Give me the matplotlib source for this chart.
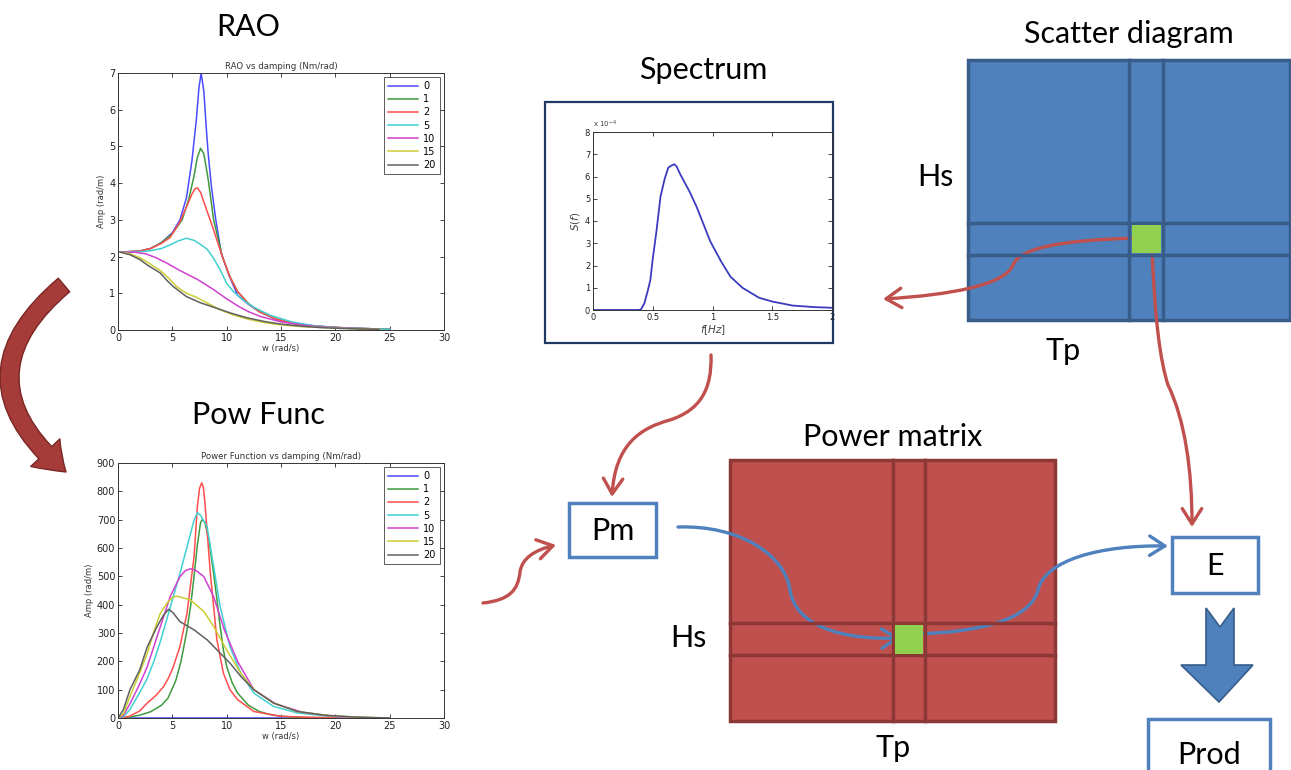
import matplotlib
matplotlib.use("Agg")
import matplotlib.pyplot as plt
from matplotlib.patches import Rectangle, FancyArrowPatch, Polygon
from matplotlib.path import Path

W, H = 1291, 770

# ---- RAO vs damping (w in rad/s, amplitude in rad/m)
rao_labels = ["0", "1", "2", "5", "10", "15", "20"]
rao_w0 = [0.2, 2, 3, 4, 5, 5.7, 6.3, 6.8, 7.2, 7.45, 7.65, 7.9, 8.1, 8.3, 8.6, 9.0, 9.5, 10.2, 11, 12, 13, 14.5, 16, 18, 20, 22, 25]
rao_a0 = [2.12, 2.15, 2.22, 2.38, 2.65, 3.0, 3.6, 4.6, 5.7, 6.6, 7.0, 6.5, 5.6, 4.8, 3.9, 3.0, 2.1, 1.5, 0.95, 0.7, 0.5, 0.3, 0.19, 0.11, 0.07, 0.045, 0.02]
rao_w1 = [0.2, 2, 3, 4, 5, 5.9, 6.5, 7.0, 7.3, 7.6, 7.9, 8.3, 8.8, 9.6, 10.3, 11, 12, 13, 14.5, 16, 18, 20, 22, 25]
rao_a1 = [2.12, 2.15, 2.22, 2.38, 2.62, 3.0, 3.55, 4.2, 4.7, 4.95, 4.8, 4.1, 3.0, 2.0, 1.45, 1.05, 0.72, 0.5, 0.3, 0.19, 0.11, 0.07, 0.045, 0.02]
rao_w2 = [0.2, 2, 3, 4, 4.8, 5.7, 6.3, 6.8, 7.1, 7.3, 7.6, 8.0, 8.6, 9.6, 10.3, 11, 12, 13, 14.5, 16, 18, 20, 22, 25]
rao_a2 = [2.12, 2.15, 2.22, 2.36, 2.52, 2.95, 3.35, 3.7, 3.85, 3.87, 3.75, 3.4, 2.9, 2.0, 1.45, 1.05, 0.72, 0.5, 0.3, 0.19, 0.11, 0.07, 0.045, 0.02]
rao_w5 = [0.2, 2, 3, 4, 4.8, 5.5, 6.3, 7.0, 7.6, 8.2, 8.8, 9.4, 10, 10.6, 11.5, 12.5, 14, 16, 18, 20, 22, 25]
rao_a5 = [2.12, 2.13, 2.16, 2.22, 2.32, 2.42, 2.5, 2.44, 2.33, 2.2, 1.95, 1.64, 1.27, 1.05, 0.82, 0.62, 0.4, 0.22, 0.12, 0.07, 0.045, 0.02]
rao_w10 = [0.2, 1.5, 2.5, 3.5, 4.5, 5.7, 7.3, 8.8, 10, 11, 12, 13.1, 15, 17, 19, 21, 24]
rao_a10 = [2.12, 2.12, 2.08, 1.97, 1.82, 1.62, 1.38, 1.1, 0.85, 0.66, 0.5, 0.37, 0.22, 0.13, 0.08, 0.05, 0.02]
rao_w15 = [0.2, 1.1, 2.0, 2.7, 3.9, 4.7, 5.4, 6.3, 7.3, 8.3, 9.4, 10.5, 11.9, 13.5, 15, 17, 20, 22, 24]
rao_a15 = [2.12, 2.08, 1.97, 1.85, 1.62, 1.4, 1.18, 1.0, 0.88, 0.72, 0.55, 0.42, 0.3, 0.2, 0.14, 0.09, 0.05, 0.03, 0.02]
rao_w20 = [0.2, 1.1, 2.0, 2.7, 3.9, 4.5, 5.1, 6.3, 7.6, 9.4, 10.5, 11.9, 13.5, 15, 17, 19, 22, 24]
rao_a20 = [2.12, 2.05, 1.92, 1.77, 1.55, 1.35, 1.18, 0.91, 0.74, 0.56, 0.45, 0.33, 0.23, 0.16, 0.1, 0.06, 0.03, 0.02]

# ---- Power function vs damping
pow_w0 = [0, 25]
pow_p0 = [0, 0]
pow_w1 = [0, 1, 2, 3, 4, 4.6, 5.3, 5.8, 6.3, 6.7, 7.0, 7.3, 7.6, 7.75, 8.0, 8.4, 8.8, 9.1, 9.4, 9.7, 10.0, 10.5, 11, 12, 13, 14, 15, 17, 20, 23]
pow_p1 = [0, 3, 10, 22, 45, 70, 130, 200, 300, 400, 500, 610, 690, 700, 690, 620, 510, 420, 323, 240, 182, 125, 88, 45, 23, 12, 6, 2, 1, 0]
pow_w2 = [0, 1, 2, 2.7, 3.5, 4.2, 4.7, 5.1, 5.7, 6.35, 7.0, 7.3, 7.5, 7.7, 7.85, 8.0, 8.5, 9.1, 9.7, 10.3, 11, 12.5, 15, 18, 21]
pow_p2 = [0, 5, 25, 53, 80, 111, 145, 182, 252, 370, 569, 745, 810, 830, 815, 760, 510, 276, 158, 100, 65, 23, 6, 2, 0]
pow_w5 = [0, 0.5, 1.1, 2.0, 2.7, 3.3, 3.9, 4.8, 5.7, 6.35, 7.0, 7.3, 7.6, 8.2, 8.8, 9.4, 10.3, 11.3, 12.5, 14.3, 16.5, 19.5, 22, 25]
pow_p5 = [0, 5, 30, 90, 140, 200, 270, 390, 510, 604, 698, 725, 715, 675, 534, 393, 252, 158, 88, 41, 18, 6, 2, 0]
pow_w10 = [0, 0.5, 1.1, 2.0, 2.7, 3.9, 4.8, 5.7, 6.2, 6.7, 7.2, 7.9, 8.8, 9.8, 11, 12.5, 14.5, 17, 20, 23]
pow_p10 = [0, 10, 50, 120, 182, 323, 428, 499, 520, 527, 520, 499, 428, 310, 200, 100, 50, 20, 5, 1]
pow_w15 = [0, 0.5, 1.1, 2.0, 2.7, 3.3, 3.9, 4.5, 5.0, 5.4, 5.9, 6.65, 7.9, 8.8, 10, 11.3, 12.5, 14.3, 16.5, 19.5, 22, 25]
pow_p15 = [0, 15, 76, 160, 229, 305, 370, 405, 425, 430, 425, 417, 376, 323, 240, 158, 100, 53, 23, 8, 3, 0]
pow_w20 = [0, 0.5, 1.1, 2.0, 2.7, 3.6, 4.2, 4.66, 5.1, 5.7, 7.0, 8.2, 9.4, 10.3, 11.3, 12.5, 14.3, 16.5, 19, 22, 25]
pow_p20 = [0, 30, 100, 170, 252, 323, 364, 384, 370, 340, 311, 276, 229, 194, 147, 100, 53, 23, 10, 3, 0]

# ---- Wave spectrum (S in units of 1e-4)
spec_f = [0, 0.38, 0.4, 0.43, 0.46, 0.48, 0.5, 0.53, 0.565, 0.6, 0.63, 0.66, 0.68, 0.7, 0.73, 0.77, 0.81, 0.87, 0.98, 1.07, 1.15, 1.25, 1.39, 1.5, 1.67, 1.85, 2.0]
spec_s = [0, 0, 0.02, 0.3, 0.9, 1.35, 2.3, 3.5, 5.1, 5.9, 6.4, 6.5, 6.55, 6.45, 6.1, 5.7, 5.3, 4.6, 3.1, 2.2, 1.5, 1.0, 0.55, 0.38, 0.2, 0.13, 0.1]

line_colors = ["#4a4aff", "#3f9a3f", "#ff4d4d", "#40d0d0", "#d040d0", "#cccc33", "#606060"]

RED = "#c0504d"
RED_EDGE = "#8c3836"
BLUE = "#4f81bd"
BLUE_EDGE = "#385d8a"
GREEN = "#92d050"
TITLE_FONT = ["Lato", "DejaVu Sans"]
BIG = 22


def px_axes(fig, left, top, right, bottom):
    return fig.add_axes([left / W, 1 - bottom / H, (right - left) / W, (bottom - top) / H])


def matlab_style(ax, fs=7):
    ax.tick_params(direction="in", top=True, right=True, length=3, width=0.6,
                   labelsize=fs, pad=2, colors="#222222")
    for s in ax.spines.values():
        s.set_linewidth(0.7)
        s.set_color("#333333")


def matlab_legend(ax):
    leg = ax.legend(loc="upper right", fontsize=7, frameon=True, fancybox=False,
                    handlelength=3.0, handletextpad=0.6, labelspacing=0.32, borderpad=0.4,
                    borderaxespad=0.45)
    leg.get_frame().set_edgecolor("#333333")
    leg.get_frame().set_linewidth(0.7)


def curve_path(pts):
    codes = [Path.MOVETO] + [Path.CURVE4] * (len(pts) - 1)
    return Path(pts, codes)


def thin_arrow(ax, pts, color, lw=2.4):
    p = FancyArrowPatch(path=curve_path(pts), arrowstyle="->,head_length=0.55,head_width=0.35",
                        mutation_scale=20, color=color, linewidth=lw, capstyle="round",
                        joinstyle="round")
    ax.add_patch(p)


def grid_matrix(ax, x0, y0, x1, y1, vlines, hlines, cell, fc, ec):
    ax.add_patch(Rectangle((x0, y0), x1 - x0, y1 - y0, facecolor=fc, edgecolor=ec, linewidth=2.5))
    for vx in vlines:
        ax.plot([vx, vx], [y0, y1], color=ec, lw=2.5)
    for hy in hlines:
        ax.plot([x0, x1], [hy, hy], color=ec, lw=2.5)
    cx0, cy0, cx1, cy1 = cell
    ax.add_patch(Rectangle((cx0, cy0), cx1 - cx0, cy1 - cy0, facecolor=GREEN, edgecolor="none", zorder=3))


def box(ax, x0, y0, x1, y1, text):
    ax.add_patch(Rectangle((x0, y0), x1 - x0, y1 - y0, facecolor="white", edgecolor=BLUE, linewidth=2.5))
    ax.text((x0 + x1) / 2, (y0 + y1) / 2 + 1, text, fontsize=BIG, family=TITLE_FONT, ha="center", va="center")


def main():
    fig = plt.figure(figsize=(W / 100, H / 100), dpi=100)
    fig.patch.set_facecolor("white")

    ov = fig.add_axes([0, 0, 1, 1])
    ov.set_xlim(0, W)
    ov.set_ylim(H, 0)
    ov.axis("off")

    # big titles
    for x, y, t in [(248, 27, "RAO"), (258, 415, "Pow Func"), (703, 70, "Spectrum"),
                    (1129, 34, "Scatter diagram"), (893, 437, "Power matrix")]:
        ov.text(x, y, t, fontsize=BIG, family=TITLE_FONT, ha="center", va="center")
    for x, y, t in [(935, 177, "Hs"), (1063, 351, "Tp"), (688, 638, "Hs"), (893, 748, "Tp")]:
        ov.text(x, y, t, fontsize=BIG, family=TITLE_FONT, ha="center", va="center")

    # scatter diagram & power matrix
    grid_matrix(ov, 968, 60, 1290, 320, [1129, 1163], [223, 255], (1132, 225, 1161, 253), BLUE, BLUE_EDGE)
    grid_matrix(ov, 730, 460, 1055, 721, [893, 925], [623, 655], (895, 625, 923, 654), RED, RED_EDGE)

    # spectrum frame
    ov.add_patch(Rectangle((545, 102), 288, 241, facecolor="white", edgecolor="#1f3864", linewidth=1.6))

    # boxes
    box(ov, 569, 503, 656, 557, "Pm")
    box(ov, 1172, 537, 1258, 593, "E")
    box(ov, 1148, 719, 1270, 790, "Prod")

    # block down arrow
    ov.add_patch(Polygon([(1206, 608), (1220, 627), (1234, 608), (1234, 665), (1253, 665),
                          (1219, 702), (1181, 665), (1206, 665)],
                         closed=True, facecolor=BLUE, edgecolor=BLUE_EDGE, linewidth=1.2))

    # red flow arrows
    thin_arrow(ov, [(1138, 238), (1060, 240), (1020, 248), (1013, 265),
                    (1005, 285), (950, 295), (883, 299)], RED)
    thin_arrow(ov, [(1152, 250), (1155, 320), (1160, 360), (1168, 385),
                    (1185, 420), (1192, 470), (1192, 527)], RED)
    thin_arrow(ov, [(711, 355), (712, 390), (700, 410), (670, 420),
                    (640, 428), (615, 445), (612, 497)], RED)
    thin_arrow(ov, [(483, 603), (510, 600), (518, 590), (520, 572),
                    (522, 558), (535, 550), (556, 545)], RED)

    # blue flow arrows
    thin_arrow(ov, [(678, 527), (740, 525), (785, 555), (790, 590),
                    (795, 625), (840, 640), (900, 638)], BLUE)
    thin_arrow(ov, [(916, 634), (980, 632), (1030, 620), (1038, 590),
                    (1045, 560), (1100, 545), (1168, 546)], BLUE)

    # big curved arrow RAO -> Pow Func
    big_path = Path([(64, 285), (-46, 378), (66, 472)], [Path.MOVETO, Path.CURVE3, Path.CURVE3])
    big = FancyArrowPatch(path=big_path,
                          arrowstyle="simple,head_length=1.2,head_width=1.7,tail_width=0.75",
                          mutation_scale=17, facecolor="#a53c39", edgecolor="#7a2624", linewidth=1.0)
    ov.add_patch(big)

    # ---- RAO plot
    ax1 = px_axes(fig, 118, 73, 444, 330)
    rao = [(rao_w0, rao_a0), (rao_w1, rao_a1), (rao_w2, rao_a2), (rao_w5, rao_a5),
           (rao_w10, rao_a10), (rao_w15, rao_a15), (rao_w20, rao_a20)]
    for (w, a), c, lab in zip(rao, line_colors, rao_labels):
        ax1.plot(w, a, color=c, lw=1.1, label=lab)
    ax1.set_xlim(0, 30)
    ax1.set_ylim(0, 7)
    ax1.set_xticks(range(0, 31, 5))
    ax1.set_yticks(range(0, 8))
    ax1.set_title("RAO vs damping (Nm/rad)", fontsize=6.2, pad=3, color="#333333")
    ax1.set_xlabel("w (rad/s)", fontsize=6, labelpad=1, color="#333333")
    ax1.set_ylabel("Amp (rad/m)", fontsize=6, labelpad=2, color="#333333")
    matlab_style(ax1)
    matlab_legend(ax1)

    # ---- Power function plot
    ax2 = px_axes(fig, 118, 463, 444, 718)
    pw = [(pow_w0, pow_p0), (pow_w1, pow_p1), (pow_w2, pow_p2), (pow_w5, pow_p5),
          (pow_w10, pow_p10), (pow_w15, pow_p15), (pow_w20, pow_p20)]
    for (w, p), c, lab in zip(pw, line_colors, rao_labels):
        ax2.plot(w, p, color=c, lw=1.1, label=lab)
    ax2.set_xlim(0, 30)
    ax2.set_ylim(0, 900)
    ax2.set_xticks(range(0, 31, 5))
    ax2.set_yticks(range(0, 901, 100))
    ax2.set_title("Power Function vs damping (Nm/rad)", fontsize=6.2, pad=3, color="#333333")
    ax2.set_xlabel("w (rad/s)", fontsize=6, labelpad=1, color="#333333")
    ax2.set_ylabel("Amp (rad/m)", fontsize=6, labelpad=2, color="#333333")
    matlab_style(ax2)
    matlab_legend(ax2)

    # ---- Spectrum plot
    ax3 = px_axes(fig, 593, 132, 832, 310)
    ax3.plot(spec_f, spec_s, color="#3b3bbf", lw=1.3)
    ax3.set_xlim(0, 2)
    ax3.set_ylim(0, 8)
    ax3.set_xticks([0, 0.5, 1, 1.5, 2])
    ax3.set_xticklabels(["0", "0.5", "1", "1.5", "2"])
    ax3.set_yticks(range(0, 9))
    ax3.set_xlabel(r"$f[Hz]$", fontsize=7.5, labelpad=1, color="#444444")
    ax3.set_ylabel(r"$S(f)$", fontsize=7.5, labelpad=2, color="#444444")
    ax3.text(0, 1.01, r"x 10$^{-4}$", transform=ax3.transAxes, fontsize=5, color="#444444",
             va="bottom")
    matlab_style(ax3, fs=6)

    fig.savefig("out.png", dpi=100, facecolor="white")


if __name__ == "__main__":
    main()
